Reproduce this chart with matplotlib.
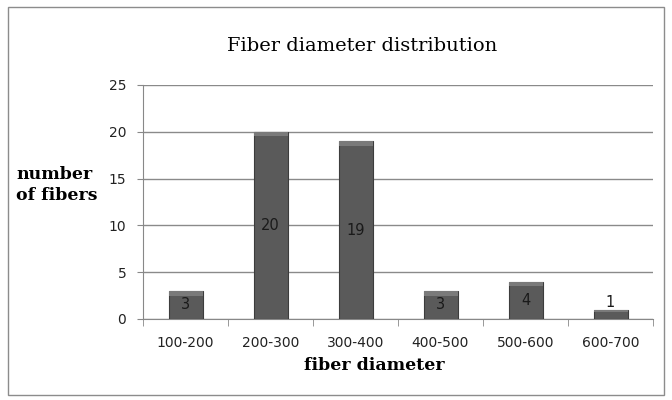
import matplotlib
matplotlib.use("Agg")
import matplotlib.pyplot as plt
from matplotlib.patches import Rectangle

categories = ["100-200", "200-300", "300-400", "400-500", "500-600", "600-700"]
counts = [3, 20, 19, 3, 4, 1]
yticks = [0, 5, 10, 15, 20, 25]

fig = plt.figure(figsize=(6.72, 4.0), dpi=100)
fig.patch.set_facecolor("white")
fig.patches.append(Rectangle((8/672, 5/400), 656/672, 388/400, transform=fig.transFigure,
                             fill=False, edgecolor="#8c8c8c", linewidth=1.0))

ax = fig.add_axes([143/672, 81/400, 510/672, 234/400])
x = range(len(categories))
bars = ax.bar(x, counts, width=0.4, color="#5a5a5a", edgecolor="#3c3c3c", linewidth=0.8, zorder=3)
# lighter top bevel
for b in bars:
    h = b.get_height()
    ax.bar(b.get_x() + b.get_width()/2, min(0.5, h*0.3), bottom=h - min(0.5, h*0.3),
           width=0.4, color="#7a7a7a", edgecolor="none", zorder=4)

for i, v in enumerate(counts):
    ypos = v/2 if v >= 3 else v + 0.8
    ax.text(i, ypos, str(v), ha="center", va="center", fontsize=10.5,
            color="#1a1a1a", family="DejaVu Sans", zorder=5)

ax.set_xlim(-0.5, len(categories) - 0.5)
ax.set_ylim(0, 25)
ax.set_yticks(yticks)
ax.set_yticklabels([str(t) for t in yticks], fontsize=10, family="DejaVu Sans", color="#222222")
ax.set_xticks(list(x))
ax.set_xticklabels(categories, fontsize=10, family="DejaVu Sans", color="#222222")
ax.set_xticks([i - 0.5 for i in range(len(categories) + 1)], minor=True)
ax.tick_params(axis="x", which="major", length=0, pad=12)
ax.tick_params(axis="x", which="minor", length=5, color="#888888")
ax.tick_params(axis="y", length=4, color="#888888", pad=8)
ax.grid(axis="y", color="#8a8a8a", linewidth=1.0, zorder=0)
for s in ["top", "right"]:
    ax.spines[s].set_visible(False)
for s in ["left", "bottom"]:
    ax.spines[s].set_color("#888888")

fig.text(362/672, 1 - 46/400, "Fiber diameter distribution", ha="center", va="center",
         fontsize=14, family="DejaVu Serif")
fig.text(16/672, 1 - 185/400, "number\nof fibers", ha="left", va="center",
         fontsize=12.5, family="DejaVu Serif", fontweight="bold", linespacing=1.35)
fig.text(374/672, 1 - 365/400, "fiber diameter", ha="center", va="center",
         fontsize=12.5, family="DejaVu Serif", fontweight="bold")

fig.savefig("out.png", dpi=100)
